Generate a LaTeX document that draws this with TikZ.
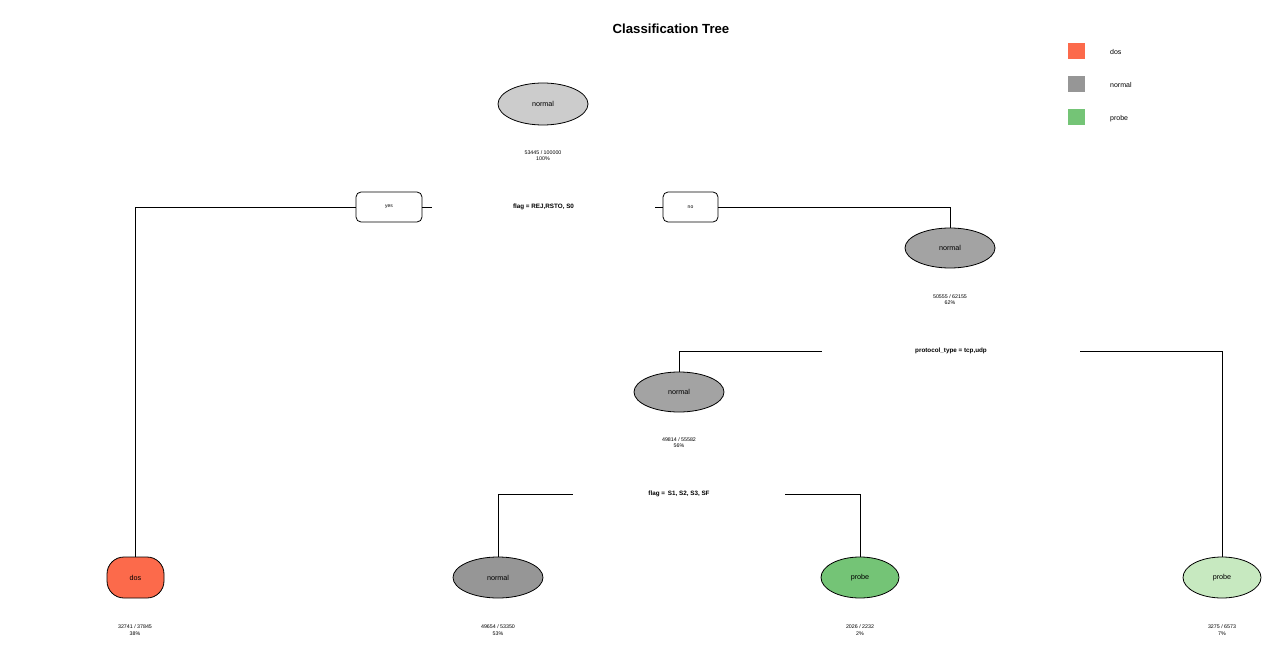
\documentclass[tikz,border=0pt]{standalone}
\usepackage{fontspec}
\setmainfont{Liberation Sans}
\usetikzlibrary{shapes.geometric}
\definecolor{cdos}{HTML}{FC6A4B}
\definecolor{cnorm}{HTML}{969696}
\definecolor{cnormmid}{HTML}{A3A3A3}
\definecolor{croot}{HTML}{CCCCCC}
\definecolor{cprobe}{HTML}{74C476}
\definecolor{cprobel}{HTML}{C7E9C0}
\tikzset{
  tnode/.style={ellipse, draw=black, line width=0.8pt, inner sep=0pt, minimum height=41, font=\fontsize{7.2}{8}\selectfont},
  stats/.style={align=center, inner sep=0pt, font=\fontsize{5.3}{6.5}\selectfont},
  splitlab/.style={inner sep=0pt, minimum height=8, font=\bfseries\fontsize{6.3}{7}\selectfont},
  ynbox/.style={draw=black, line width=0.8pt, rounded corners=5pt, inner sep=0pt, font=\fontsize{5}{6}\selectfont},
  conn/.style={line width=0.8pt, draw=black},
  legsq/.style={fill=#1, minimum width=17, minimum height=16, inner sep=0pt},
  leglab/.style={anchor=west, inner sep=0pt, font=\fontsize{7}{8}\selectfont},
}
\begin{document}
\begin{tikzpicture}[x=1pt,y=-1pt]
\useasboundingbox (0,0) rectangle (1288,671);
\fill[white] (0,0) rectangle (1288,671);
\node[font=\bfseries\fontsize{13.2}{15}\selectfont] (title) at (671,28.5) {Classification Tree};
% legend
\node[legsq=cdos] (lg1) at (1076.5,51.5) {};
\node[legsq=cnorm] (lg2) at (1076.5,84.5) {};
\node[legsq=cprobe] (lg3) at (1076.5,117.5) {};
\node[leglab] (lt1) at (1110,52.5) {dos};
\node[leglab] (lt2) at (1110,85.5) {normal};
\node[leglab] (lt3) at (1110,118.5) {probe};
% root
\node[tnode, fill=croot, minimum width=90, minimum height=42] (root) at (543,104) {\raisebox{-1pt}{normal}};
\node[stats] (rootst) at (543,155.5) {53445 / 100000\\100\%};
\node[splitlab, minimum width=223] (s1) at (543.5,207) {\raisebox{-1.5pt}{flag = REJ,RSTO, S0}};
\node[ynbox, minimum width=66, minimum height=30] (yes) at (389,207) {\raisebox{-3pt}{yes}};
\node[ynbox, minimum width=55, minimum height=30] (no) at (690.5,207) {\raisebox{-2pt}{no}};
% right internal
\node[tnode, fill=cnormmid, minimum width=90, minimum height=40] (rn) at (950,248) {\raisebox{-1pt}{normal}};
\node[stats] (rnst) at (950,299.5) {50555 / 62155\\62\%};
\node[splitlab, minimum width=258] (s2) at (951,351) {\raisebox{-1.5pt}{protocol\_type = tcp,udp}};
% middle internal
\node[tnode, fill=cnormmid, minimum width=90, minimum height=40] (mn) at (679,392) {\raisebox{-1pt}{normal}};
\node[stats] (mnst) at (679,442.5) {49814 / 55582\\56\%};
\node[splitlab, minimum width=212] (s3) at (679,494) {\raisebox{-1.5pt}{flag = \,S1, S2, S3, SF}};
% leaves
\node[draw=black, line width=0.8pt, fill=cdos, rounded corners=17pt, minimum width=57, minimum height=41, inner sep=0pt, font=\fontsize{7.2}{8}\selectfont] (ldos) at (135.5,577.5) {\raisebox{-1pt}{dos}};
\node[stats] (ldosst) at (135,630) {32741 / 37845\\38\%};
\node[tnode, fill=cnorm, minimum width=90] (lnorm) at (498,577.5) {\raisebox{-1pt}{normal}};
\node[stats] (lnormst) at (498,630) {49654 / 53350\\53\%};
\node[tnode, fill=cprobe, minimum width=78] (lprobe) at (860,577.5) {\raisebox{-1pt}{probe}};
\node[stats] (lprobest) at (860,630) {2026 / 2232\\2\%};
\node[tnode, fill=cprobel, minimum width=78] (lprobe2) at (1222,577.5) {\raisebox{-1pt}{probe}};
\node[stats] (lprobe2st) at (1222,630) {3275 / 6573\\7\%};
% connectors
\draw[conn] (yes.west) -| (ldos.north);
\draw[conn] (yes.east) -- (s1.west);
\draw[conn] (s1.east) -- (no.west);
\draw[conn] (no.east) -| (rn.north);
\draw[conn] (s2.west) -| (mn.north);
\draw[conn] (s2.east) -| (lprobe2.north);
\draw[conn] (s3.west) -| (lnorm.north);
\draw[conn] (s3.east) -| (lprobe.north);
\end{tikzpicture}
\end{document}
